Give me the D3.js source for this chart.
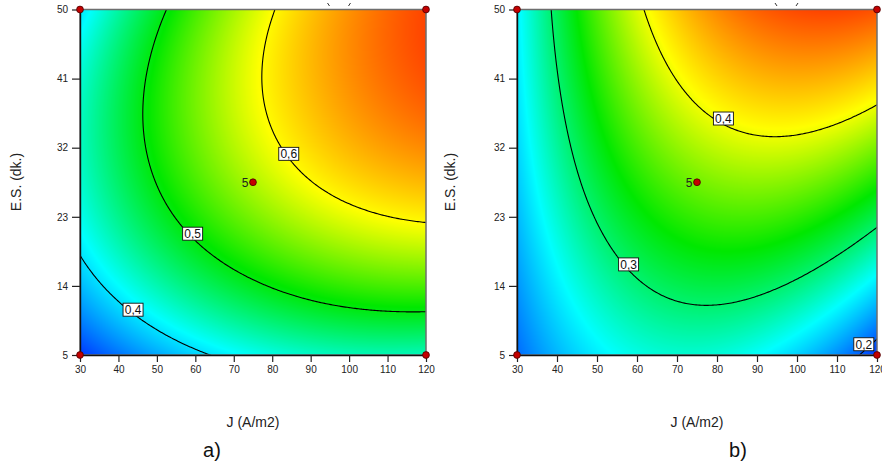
<!DOCTYPE html>
<html><head><meta charset="utf-8">
<script src="https://cdn.jsdelivr.net/npm/d3@7"></script>
<style>
body{margin:0;background:#fff}
svg{display:block}
text{font-family:"Liberation Sans",Arial,sans-serif}
</style>
</head><body>
<svg id="chart" width="882" height="466"></svg>
<script>
// ---------------- data ----------------
const jTicks = [30, 40, 50, 60, 70, 80, 90, 100, 110, 120];
const esTicks = [5, 14, 23, 32, 41, 50];
// response surface read at a 5 x 5 grid (rows: E.S., columns: J)
const gridJ = [30, 52.5, 75, 97.5, 120];
const gridES = [5, 16.25, 27.5, 38.75, 50];
const surfaceA = [
  [0.320, 0.378, 0.417, 0.437, 0.438],
  [0.392, 0.461, 0.510, 0.541, 0.553],
  [0.429, 0.509, 0.569, 0.611, 0.633],
  [0.432, 0.522, 0.593, 0.645, 0.679],
  [0.399, 0.500, 0.582, 0.646, 0.690]
];
const surfaceB = [
  [0.204, 0.256, 0.271, 0.247, 0.185],
  [0.223, 0.290, 0.320, 0.311, 0.264],
  [0.238, 0.320, 0.364, 0.370, 0.338],
  [0.248, 0.345, 0.404, 0.425, 0.407],
  [0.253, 0.365, 0.439, 0.474, 0.472]
];
const levelsA = [0.4, 0.5, 0.6];
const levelsB = [0.2, 0.3, 0.4];
const labelTextA = ["0,4", "0,5", "0,6"];
const labelJA = [43.8, 59.3, 84.3];
const labelESA = [10.9, 20.8, 31.2];
const labelTextB = ["0,2", "0,3", "0,4"];
const labelJB = [116.7, 57.9, 81.6];
const labelESB = [6.4, 16.8, 35.8];
const designJ = [30, 30, 120, 120, 75];
const designES = [5, 50, 50, 5, 27.5];
const centerLabel = "5";
const xTitle = "J (A/m2)";
const yTitle = "E.S. (dk.)";
const colorStops = ["#0038ff", "#00ffff", "#00e800", "#ffff00", "#ff4400"];

// ---------------- helpers ----------------
function cr1(p, t) {
  const n = p.length;
  const ext = [3 * p[0] - 3 * p[1] + p[2], ...p, 3 * p[n - 1] - 3 * p[n - 2] + p[n - 3]];
  let i = Math.floor(t);
  if (i < 0) i = 0;
  if (i > n - 2) i = n - 2;
  const u = t - i;
  const p0 = ext[i], p1 = ext[i + 1], p2 = ext[i + 2], p3 = ext[i + 3];
  return 0.5 * (2 * p1 + (-p0 + p2) * u + (2 * p0 - 5 * p1 + 4 * p2 - p3) * u * u + (-p0 + 3 * p1 - 3 * p2 + p3) * u * u * u);
}

const svg = d3.select("#chart");
svg.append("rect").attr("width", 882).attr("height", 466).attr("fill", "#fff");
const defs = svg.append("defs");

function panel(cfg) {
  const { id, left, right, top, bottom, surf, levels, labT, labJ, labE, yTitleX, tagText, tagX } = cfg;
  const xs = d3.scaleLinear().domain([30, 120]).range([left, right]);
  const ys = d3.scaleLinear().domain([5, 50]).range([bottom, top]);
  const tJ = d3.scaleLinear().domain([gridJ[0], gridJ[gridJ.length - 1]]).range([0, gridJ.length - 1]);
  const tE = d3.scaleLinear().domain([gridES[0], gridES[gridES.length - 1]]).range([0, gridES.length - 1]);
  const g = svg.append("g");

  // heat map
  const w = Math.round(right - left), h = Math.round(bottom - top);
  const vals = new Float64Array(w * h);
  for (let i = 0; i < w; i++) {
    const J = xs.invert(left + i + 0.5);
    const col = surf.map(r => cr1(r, tJ(J)));
    for (let j = 0; j < h; j++) {
      const ES = ys.invert(top + j + 0.5);
      vals[j * w + i] = cr1(col, tE(ES));
    }
  }
  const [mn, mx] = d3.extent(vals);
  const color = d3.scaleLinear()
    .domain(d3.range(5).map(k => mn + (mx - mn) * k / 4))
    .range(colorStops).clamp(true);
  const cv = document.createElement("canvas");
  cv.width = w; cv.height = h;
  const ctx = cv.getContext("2d");
  const img = ctx.createImageData(w, h);
  for (let k = 0; k < w * h; k++) {
    const c = d3.rgb(color(vals[k]));
    img.data[4 * k] = c.r; img.data[4 * k + 1] = c.g; img.data[4 * k + 2] = c.b; img.data[4 * k + 3] = 255;
  }
  ctx.putImageData(img, 0, 0);
  g.append("image").attr("href", cv.toDataURL()).attr("x", left).attr("y", top)
    .attr("width", right - left).attr("height", bottom - top).attr("preserveAspectRatio", "none");

  // contours (computed on a padded grid, clipped to the plot)
  defs.append("clipPath").attr("id", "clip" + id).append("rect")
    .attr("x", left).attr("y", top).attr("width", right - left).attr("height", bottom - top);
  const n = 240;
  const gJ = d3.scaleLinear().domain([0.5, n - 0.5]).range([25, 125]);
  const gE = d3.scaleLinear().domain([0.5, n - 0.5]).range([2, 53]);
  const gv = new Float64Array(n * n);
  for (let i = 0; i < n; i++) {
    const col = surf.map(r => cr1(r, tJ(gJ(i + 0.5))));
    for (let j = 0; j < n; j++) gv[j * n + i] = cr1(col, tE(gE(j + 0.5)));
  }
  const cs = d3.contours().size([n, n]).thresholds(levels)(gv);
  const proj = d3.geoTransform({ point(x, y) { this.stream.point(xs(gJ(x)), ys(gE(y))); } });
  const path = d3.geoPath(proj);
  g.append("g").attr("clip-path", `url(#clip${id})`)
    .selectAll("path").data(cs).join("path")
    .attr("d", path).attr("fill", "none").attr("stroke", "#000").attr("stroke-width", 1.1);

  // frame
  g.append("rect").attr("x", left).attr("y", top).attr("width", right - left).attr("height", bottom - top)
    .attr("fill", "none").attr("stroke", "#6e6e6e").attr("stroke-width", 1.5);

  // axes
  const ax = g.append("g").attr("transform", `translate(0,${bottom})`)
    .call(d3.axisBottom(xs).tickValues(jTicks).tickSize(7).tickSizeOuter(0).tickPadding(4));
  const ay = g.append("g").attr("transform", `translate(${left},0)`)
    .call(d3.axisLeft(ys).tickValues(esTicks).tickSize(8).tickSizeOuter(0).tickPadding(4));
  [ax, ay].forEach(a => {
    a.selectAll("text").attr("font-size", 10).attr("fill", "#222").attr("font-family", "Liberation Sans, Arial, sans-serif");
    a.selectAll("line").attr("stroke", "#222").attr("stroke-width", 1.2);
    a.select(".domain").attr("stroke", "#111").attr("stroke-width", 1.4);
  });

  // contour labels
  labT.forEach((t, k) => {
    const lg = g.append("g").attr("transform", `translate(${xs(labJ[k])},${ys(labE[k])})`);
    lg.append("rect").attr("x", -10).attr("y", -6.5).attr("width", 20).attr("height", 13)
      .attr("fill", "#fff").attr("stroke", "#111").attr("stroke-width", 0.9);
    lg.append("text").attr("text-anchor", "middle").attr("dy", "0.36em")
      .attr("font-size", 12).attr("fill", "#111").text(t);
  });

  // design points
  g.selectAll("circle.dp").data(designJ.map((J, k) => [J, designES[k]])).join("circle")
    .attr("class", "dp").attr("cx", d => xs(d[0])).attr("cy", d => ys(d[1])).attr("r", 3.4)
    .attr("fill", "#c40000").attr("stroke", "#4a0000").attr("stroke-width", 0.8);
  g.append("text").attr("x", xs(designJ[4]) - 4.5).attr("y", ys(designES[4])).attr("dy", "0.36em")
    .attr("text-anchor", "end").attr("font-size", 12).attr("fill", "#222").text(centerLabel);

  // small fragments above the plot
  const fx = xs(97.5);
  g.append("path").attr("d", `M${fx - 12},3 l2,3 M${fx + 11},3 l-2,3`)
    .attr("stroke", "#333").attr("stroke-width", 1).attr("fill", "none");

  // titles
  const cx = (left + right) / 2;
  g.append("text").attr("x", cx).attr("y", 427).attr("text-anchor", "middle")
    .attr("font-size", 14).attr("fill", "#222").text(xTitle);
  g.append("text").attr("transform", `translate(${yTitleX},182) rotate(-90)`).attr("text-anchor", "middle")
    .attr("dy", "0.36em").attr("font-size", 14).attr("fill", "#222").text(yTitle);
  g.append("text").attr("x", tagX).attr("y", 457).attr("text-anchor", "middle")
    .attr("font-size", 20).attr("fill", "#111").attr("font-family", "Liberation Serif, serif").text(tagText);
}

panel({ id: "a", left: 80, right: 426, top: 9.5, bottom: 355, surf: surfaceA, levels: levelsA,
  labT: labelTextA, labJ: labelJA, labE: labelESA, yTitleX: 16, tagText: "a)", tagX: 212 });
panel({ id: "b", left: 517, right: 877, top: 9.5, bottom: 355, surf: surfaceB, levels: levelsB,
  labT: labelTextB, labJ: labelJB, labE: labelESB, yTitleX: 450, tagText: "b)", tagX: 738 });
</script>
</body></html>
